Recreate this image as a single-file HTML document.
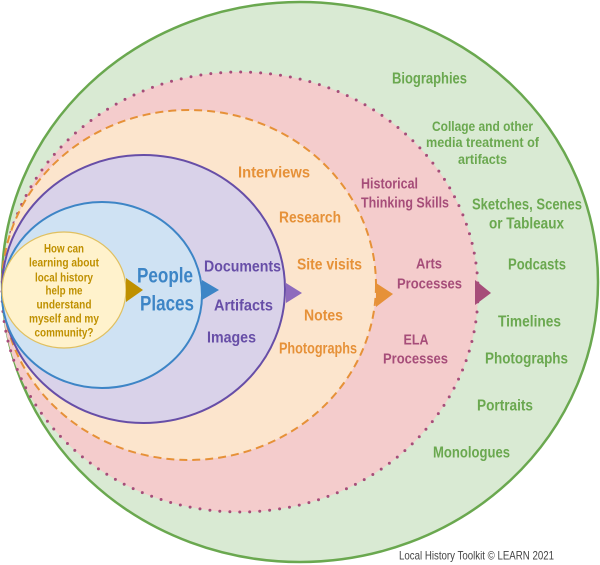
<!DOCTYPE html>
<html>
<head>
<meta charset="utf-8">
<style>
html,body{margin:0;padding:0;background:#fff;}
svg{display:block;}
text{font-family:"Liberation Sans",sans-serif;font-weight:bold;}
</style>
</head>
<body>
<svg width="600" height="565" viewBox="0 0 600 565" xmlns="http://www.w3.org/2000/svg">
  <!-- ellipses -->
  <ellipse cx="300" cy="282" rx="298" ry="280" fill="#d9ead3" stroke="#6aa84f" stroke-width="2.5"/>
  <ellipse cx="240" cy="292" rx="238" ry="220" fill="#f4cccc" stroke="#a64d79" stroke-width="3" stroke-dasharray="0 10" stroke-linecap="round"/>
  <ellipse cx="189" cy="285" rx="187" ry="175" fill="#fce5cd" stroke="#e69138" stroke-width="2" stroke-dasharray="8 5"/>
  <ellipse cx="143.5" cy="289" rx="141.5" ry="134" fill="#d9d2e9" stroke="#674ea7" stroke-width="2"/>
  <ellipse cx="102" cy="295" rx="100" ry="93" fill="#cfe2f3" stroke="#3d85c6" stroke-width="2"/>
  <ellipse cx="64" cy="290" rx="62" ry="58" fill="#fff2cc" stroke="#e0c060" stroke-width="1.2"/>

  <!-- arrows -->
  <polygon points="126,278 126,302 143,290" fill="#bf9000"/>
  <polygon points="202,280 202,300 219,290" fill="#3d85c6"/>
  <polygon points="286,283 286,303 302,293" fill="#8e6bbd"/>
  <polygon points="376,283 376,307 393,294" fill="#e69138"/>
  <polygon points="475,280 475,305 491,293" fill="#a64d79"/>

  <!-- yellow question -->
  <g fill="#bf9000" font-size="12" text-anchor="middle">
    <text x="64" y="252.5" textLength="40" lengthAdjust="spacingAndGlyphs">How can</text>
    <text x="64" y="266.5" textLength="70" lengthAdjust="spacingAndGlyphs">learning about</text>
    <text x="64" y="281.5" textLength="58" lengthAdjust="spacingAndGlyphs">local history</text>
    <text x="64" y="294.5" textLength="37" lengthAdjust="spacingAndGlyphs">help me</text>
    <text x="64" y="308.5" textLength="55" lengthAdjust="spacingAndGlyphs">understand</text>
    <text x="64" y="322.5" textLength="70" lengthAdjust="spacingAndGlyphs">myself and my</text>
    <text x="64" y="336.5" textLength="59" lengthAdjust="spacingAndGlyphs">community?</text>
  </g>

  <!-- blue -->
  <g fill="#3d85c6" font-size="21" text-anchor="middle">
    <text x="165" y="282.5" textLength="56" lengthAdjust="spacingAndGlyphs">People</text>
    <text x="167" y="310.5" textLength="54" lengthAdjust="spacingAndGlyphs">Places</text>
  </g>

  <!-- purple -->
  <g fill="#674ea7" font-size="15.5" text-anchor="middle">
    <text x="242.5" y="271.5" textLength="77" lengthAdjust="spacingAndGlyphs">Documents</text>
    <text x="243.5" y="310.5" textLength="59" lengthAdjust="spacingAndGlyphs">Artifacts</text>
    <text x="231.5" y="342.5" textLength="49" lengthAdjust="spacingAndGlyphs">Images</text>
  </g>

  <!-- orange -->
  <g fill="#e69138" font-size="15.5" text-anchor="middle">
    <text x="274" y="177.5" textLength="72" lengthAdjust="spacingAndGlyphs">Interviews</text>
    <text x="310" y="222.5" textLength="62" lengthAdjust="spacingAndGlyphs">Research</text>
    <text x="329.5" y="269.5" textLength="65" lengthAdjust="spacingAndGlyphs">Site visits</text>
    <text x="323.5" y="320.5" textLength="39" lengthAdjust="spacingAndGlyphs">Notes</text>
    <text x="318" y="353.5" textLength="78" lengthAdjust="spacingAndGlyphs">Photographs</text>
  </g>

  <!-- pink -->
  <g fill="#a64d79" font-size="15">
    <text x="361" y="188.5" textLength="57" lengthAdjust="spacingAndGlyphs">Historical</text>
    <text x="361" y="207.5" textLength="88" lengthAdjust="spacingAndGlyphs">Thinking Skills</text>
  </g>
  <g fill="#a64d79" font-size="15" text-anchor="middle">
    <text x="429" y="268.5" textLength="26" lengthAdjust="spacingAndGlyphs">Arts</text>
    <text x="429.5" y="288.5" textLength="65" lengthAdjust="spacingAndGlyphs">Processes</text>
    <text x="416" y="344.5" textLength="25" lengthAdjust="spacingAndGlyphs">ELA</text>
    <text x="415.5" y="363.5" textLength="65" lengthAdjust="spacingAndGlyphs">Processes</text>
  </g>

  <!-- green -->
  <g fill="#6aa84f" font-size="15.5" text-anchor="middle">
    <text x="429.5" y="83.5" textLength="75" lengthAdjust="spacingAndGlyphs">Biographies</text>
    <text x="482.5" y="131" font-size="14" textLength="101" lengthAdjust="spacingAndGlyphs">Collage and other</text>
    <text x="482.5" y="147" font-size="14" textLength="113" lengthAdjust="spacingAndGlyphs">media treatment of</text>
    <text x="482.5" y="164" font-size="14" textLength="49" lengthAdjust="spacingAndGlyphs">artifacts</text>
    <text x="527" y="209.5" textLength="110" lengthAdjust="spacingAndGlyphs">Sketches, Scenes</text>
    <text x="526.5" y="228.5" textLength="75" lengthAdjust="spacingAndGlyphs">or Tableaux</text>
    <text x="537" y="269.5" textLength="58" lengthAdjust="spacingAndGlyphs">Podcasts</text>
    <text x="529.5" y="326.5" textLength="63" lengthAdjust="spacingAndGlyphs">Timelines</text>
    <text x="526.5" y="363.5" textLength="83" lengthAdjust="spacingAndGlyphs">Photographs</text>
    <text x="505" y="410.5" textLength="56" lengthAdjust="spacingAndGlyphs">Portraits</text>
    <text x="471.5" y="457.5" textLength="77" lengthAdjust="spacingAndGlyphs">Monologues</text>
  </g>

  <!-- copyright -->
  <text x="476.5" y="559.5" fill="#444" font-size="12" style="font-weight:normal" text-anchor="middle" textLength="155" lengthAdjust="spacingAndGlyphs">Local History Toolkit © LEARN 2021</text>
</svg>
</body>
</html>
